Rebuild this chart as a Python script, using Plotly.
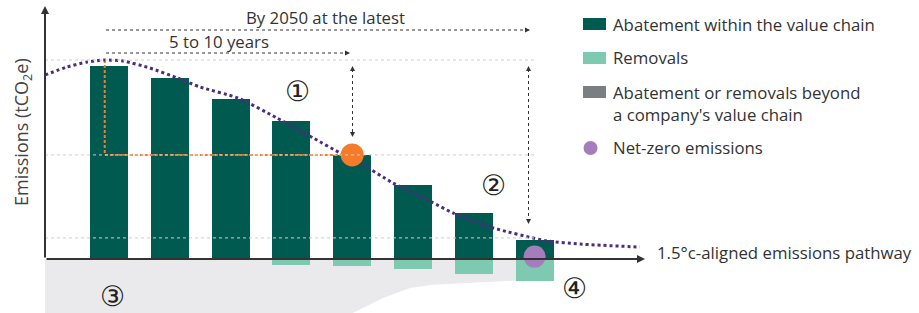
import plotly.graph_objects as go

# ---------------- data ----------------
periods = [0, 1, 2, 3, 4, 5, 6, 7]
abatement = [97.0, 91.0, 80.4, 69.3, 52.3, 37.2, 23.1, 9.5]
removals = [0, 0, 0, -2.9, -3.5, -4.9, -7.4, -10.9]

pathway_x = [-1.05, -0.69, -0.36, -0.07, 0.23, 0.67, 1.12, 1.50, 2.12, 2.76, 3.36,
             3.80, 4.13, 4.67, 5.31, 5.66, 6.32, 7.20, 7.75, 8.73]
pathway_y = [92.5, 96.5, 99.0, 100.0, 99.5, 96.0, 91.0, 86.4, 80.9, 70.9, 60.8,
             53.3, 48.2, 38.2, 28.6, 23.1, 15.6, 9.1, 7.5, 6.0]

beyond_x = [-1.05, 7.27, 7.27, 6.65, 5.89, 5.33, 4.95, 4.51, 4.01, 3.82, -1.05]
beyond_y = [0, 0, -10.9, -10.9, -12.1, -12.9, -14.6, -19.6, -27.1, -30.2, -30.2]

interim_x = [-0.07, -0.07, 4.0]
interim_y = [100.0, 52.3, 52.3]
interim_point = (4.0, 52.3)
netzero_point = (7.0, 1.2)

reference_levels = [100.0, 52.3, 10.6]

legend_labels = ["Abatement within the value chain", "Removals",
                 "Abatement or removals beyond", "a company's value chain",
                 "Net-zero emissions"]
pathway_label = "1.5°c-aligned emissions pathway"
y_title = "Emissions (tCO<sub>2</sub>e)"
span_long = "By 2050 at the latest"
span_short = "5 to 10 years"
markers = ["①", "②", "③", "④"]

# ---------------- styles / geometry ----------------
W, H = 919, 313
X0, DX = 109.0, 60.8   # pixel of period 0, pixels per period
Y0, DY = 259.0, 1.99   # pixel of zero, pixels per unit

def px(p):
    return (p - X0) / DX

def py(p):
    return (Y0 - p) / DY

def pap_x(p):
    return p / W

def pap_y(p):
    return 1 - p / H

DARK = "#005a50"
LIGHT = "#7ecab0"
GREY_AREA = "#eaeaec"
GREY_LEG = "#7b7f84"
ORANGE = "#f47b2a"
PURPLE_DOT = "#a57dbd"
PATH = "#4b2d7f"
TXT = "#333333"
FONT = "Open Sans"
FS = 16.8

fig = go.Figure()

fig.add_trace(go.Bar(x=periods, y=abatement, width=0.625, marker_color=DARK,
                     marker_line_width=0))
fig.add_trace(go.Bar(x=periods, y=removals, width=0.625, marker_color=LIGHT,
                     marker_line_width=0))
fig.add_trace(go.Scatter(x=interim_x, y=interim_y, mode="lines",
                         line=dict(color=ORANGE, width=2, dash="3px,2px")))
fig.add_trace(go.Scatter(x=pathway_x, y=pathway_y, mode="lines",
                         line=dict(color=PATH, width=3, dash="dot", shape="spline",
                                   smoothing=0.6)))
fig.add_trace(go.Scatter(x=[interim_point[0]], y=[interim_point[1]], mode="markers",
                         marker=dict(color=ORANGE, size=23, line_width=0)))
fig.add_trace(go.Scatter(x=[netzero_point[0]], y=[netzero_point[1]], mode="markers",
                         marker=dict(color=PURPLE_DOT, size=22, line_width=0)))

shapes = []
# area beyond the value chain (below the bars)
area_path = "M " + " L ".join(f"{x},{y}" for x, y in zip(beyond_x, beyond_y)) + " Z"
shapes.append(dict(type="path", path=area_path, xref="x", yref="y",
                   fillcolor=GREY_AREA, line_width=0, layer="below"))
# reference gridlines
for lvl in reference_levels:
    shapes.append(dict(type="line", x0=px(45), x1=px(535), y0=lvl, y1=lvl,
                       line=dict(color="#cfcfcf", width=1, dash="dot"), layer="above"))
# dotted span lines
shapes.append(dict(type="line", x0=px(106), x1=px(526), y0=py(30), y1=py(30),
                   line=dict(color=TXT, width=1, dash="dot")))
shapes.append(dict(type="line", x0=px(106), x1=px(346), y0=py(53), y1=py(53),
                   line=dict(color=TXT, width=1, dash="dot")))
shapes.append(dict(type="line", x0=px(352.5), x1=px(352.5), y0=py(69), y1=py(134),
                   line=dict(color=TXT, width=1, dash="dot")))
shapes.append(dict(type="line", x0=px(528.5), x1=px(528.5), y0=py(69), y1=py(221),
                   line=dict(color=TXT, width=1, dash="dot")))
# legend swatches
leg_rows = [24, 58, 92]
leg_cols = [DARK, LIGHT, GREY_LEG]
for yy, cc in zip(leg_rows, leg_cols):
    shapes.append(dict(type="rect", xref="paper", yref="paper",
                       x0=pap_x(583), x1=pap_x(606), y0=pap_y(yy - 6), y1=pap_y(yy + 6),
                       fillcolor=cc, line_width=0))
shapes.append(dict(type="circle", xref="paper", yref="paper",
                   x0=pap_x(583.5), x1=pap_x(597.5), y0=pap_y(141), y1=pap_y(155),
                   fillcolor=PURPLE_DOT, line_width=0))

ann = []
def arrow(tip_x, tip_y, tail_x, tail_y, width=1.0, size=1.0):
    ann.append(dict(x=px(tip_x), y=py(tip_y), ax=px(tail_x), ay=py(tail_y),
                    xref="x", yref="y", axref="x", ayref="y", text="",
                    showarrow=True, arrowhead=2, arrowsize=size, arrowwidth=width,
                    arrowcolor=TXT, standoff=0, startstandoff=0))

# axes
arrow(645, 259, 45, 259, width=2, size=0.8)
arrow(45, 6, 45, 259, width=2, size=0.8)
# small dotted-arrow heads
arrow(530, 30, 524, 30)
arrow(350, 53, 344, 53)
arrow(352.5, 66, 352.5, 72)
arrow(352.5, 137, 352.5, 131)
arrow(528.5, 66, 528.5, 72)
arrow(528.5, 224, 528.5, 218)

def text(x, y, s, size=FS, anchor="center", color=TXT, font=FONT, angle=0):
    ann.append(dict(x=pap_x(x), y=pap_y(y), xref="paper", yref="paper", text=s,
                    showarrow=False, xanchor=anchor, yanchor="middle", textangle=angle,
                    font=dict(family=font, size=size, color=color)))

text(325, 17, span_long)
text(219, 41, span_short)
text(23, 132, y_title, size=18, angle=-90, color="#444444")
text(655, 252, pathway_label, anchor="left")
text(611, 24, legend_labels[0], anchor="left")
text(611, 58, legend_labels[1], anchor="left")
text(611, 92, legend_labels[2], anchor="left")
text(611, 114, legend_labels[3], anchor="left")
text(611, 148, legend_labels[4], anchor="left")

for (xx, yy), m in zip([(297, 91), (493, 186), (112, 296), (574, 288)], markers):
    text(xx, yy, m, size=28, font="DejaVu Sans", color="#222222")

fig.update_layout(
    width=W, height=H, autosize=False,
    margin=dict(l=0, r=0, t=0, b=0, pad=0),
    paper_bgcolor="white", plot_bgcolor="white",
    barmode="relative", bargap=0, showlegend=False,
    xaxis=dict(visible=False, range=[px(0), px(W)], fixedrange=True),
    yaxis=dict(visible=False, range=[py(H), py(0)], fixedrange=True),
    shapes=shapes, annotations=ann,
)

fig.write_html("out.html", config={"displayModeBar": False},
               post_script="document.body.style.margin='0px';")
